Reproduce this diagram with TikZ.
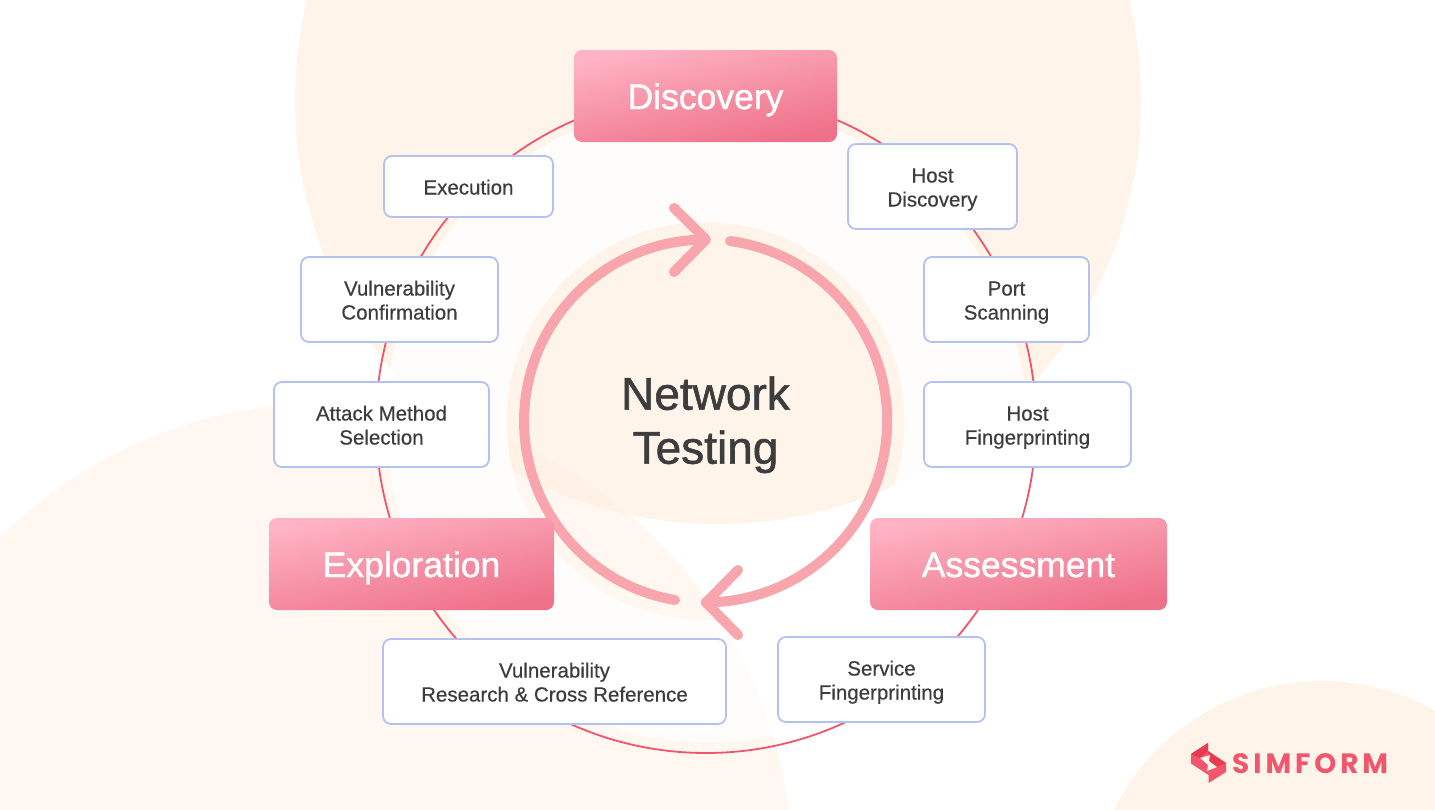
\documentclass[tikz,border=0pt]{standalone}
\usepackage{fontspec}
\setmainfont{Liberation Sans}
\newfontfamily\medfont[FakeBold=0.4]{Liberation Sans}
\newfontfamily\headfont[FakeBold=1.2]{Liberation Sans}
\newfontfamily\logofont[LetterSpace=14]{Poppins}
\definecolor{bgA}{HTML}{FFEBD5}
\definecolor{bgB}{HTML}{FFF0E2}
\definecolor{ringc}{HTML}{F0566B}
\definecolor{arrowc}{HTML}{F8A5AD}
\definecolor{boxline}{HTML}{B4C2F2}
\definecolor{inktext}{HTML}{3D3D3D}
\definecolor{gradtop}{HTML}{FFB3C3}
\definecolor{gradbot}{HTML}{EE7089}
\definecolor{logoc}{HTML}{F2566C}
\definecolor{logod}{HTML}{E83B50}
\definecolor{logobg}{HTML}{FFF5EA}
\tikzset{
  bgdisc/.style={fill opacity=.5},
  stepbox/.style={draw=boxline,line width=1.8pt,fill=white,rounded corners=8pt,align=center,
    text=inktext,inner sep=0pt,font=\medfont\fontsize{20.5}{24}\selectfont},
  phasebox/.style={rounded corners=8pt,top color=gradtop,bottom color=gradbot,shading angle=12,
    text=white,inner sep=0pt,font=\headfont\fontsize{35.5}{40}\selectfont},
  bigarc/.style={draw=arrowc,line width=10pt,line cap=round,line join=round},
}
\newcommand{\boxat}[7]{\node[#1,minimum width=#4pt-#2pt,minimum height=#5pt-#3pt] (#6) at ({(#2+#4)/2},{(#3+#5)/2}) {#7};}
\newcommand{\sline}[1]{\rule{0pt}{16pt}\smash{#1}}
\newcommand{\dline}[2]{\rule{0pt}{16pt}#1\\\smash{#2}}
\newcommand{\pline}[1]{\rule{0pt}{26pt}\smash{#1}}
\begin{document}
\begin{tikzpicture}[x=1pt,y=-1pt]
\useasboundingbox (0,0) rectangle (1435,809);
\clip (0,0) rectangle (1435,809);
\fill[white] (0,0) rectangle (1435,809);
% background discs
\fill[bgA,bgdisc] (718,101) circle[radius=423pt];
\fill[bgB,bgdisc] (327,868) circle[radius=465pt];
\fill[bgA,bgdisc] (1322,913) circle[radius=232pt];
% whitened band
\fill[white,fill opacity=.85,even odd rule] (706,422) circle[radius=320pt] (705.5,421) circle[radius=199pt];
% thin ring
\draw[ringc,line width=1.8pt] (706,423) circle[radius=330pt];
% big cycle arrows
\coordinate (arcAs) at (675,600);
\coordinate (arcAe) at (706,239.5);
\coordinate (arcBs) at (730,241);
\coordinate (arcBe) at (706,602.5);
\coordinate (headAu) at (674,208);
\coordinate (headAd) at (674,272);
\coordinate (headBu) at (738,570);
\coordinate (headBd) at (738,635);
\draw[bigarc] (arcAs) arc[start angle=260.3,end angle=90,radius=181.5pt];
\draw[bigarc] (headAu) -- (arcAe) -- (headAd);
\draw[bigarc] (arcBs) arc[start angle=82.3,end angle=-90,radius=181.5pt];
\draw[bigarc] (headBu) -- (arcBe) -- (headBd);
% centre label
\node[text=inktext,align=center,inner sep=0pt,font=\headfont\fontsize{46}{54}\selectfont] (centre) at (705.5,420) {\rule{0pt}{29pt}Network\\\smash{Testing}};
% phases
\boxat{phasebox}{574}{50}{837}{142}{discovery}{\pline{Discovery}}
\boxat{phasebox}{870}{518}{1167}{610}{assessment}{\pline{Assessment}}
\boxat{phasebox}{269}{518}{554}{610}{exploration}{\pline{Exploration}}
% steps
\boxat{stepbox}{384}{156}{553}{217}{execution}{\sline{Execution}}
\boxat{stepbox}{848}{144}{1017}{229}{hostdisc}{\dline{Host}{Discovery}}
\boxat{stepbox}{924}{257}{1089}{342}{portscan}{\dline{Port}{Scanning}}
\boxat{stepbox}{924}{382}{1131}{467}{hostfp}{\dline{Host}{Fingerprinting}}
\boxat{stepbox}{778}{637}{985}{722}{servicefp}{\dline{Service}{Fingerprinting}}
\boxat{stepbox}{383}{639}{726}{724}{vulnres}{\dline{Vulnerability}{Research \& Cross Reference}}
\boxat{stepbox}{274}{382}{489}{467}{attack}{\dline{Attack Method}{Selection}}
\boxat{stepbox}{301}{257}{498}{342}{vulnconf}{\dline{Vulnerability}{Confirmation}}
% logo
\fill[logoc] (1208,743) -- (1191,754) -- (1191,763.5) -- (1208.5,775) -- (1208.5,783) -- (1226,772) -- (1226,763) -- (1208,751) -- cycle;
\fill[logod] (1191,754) -- (1208,743) -- (1208,751) -- (1200,758) -- cycle;
\fill[logod] (1226,763) -- (1217,767) -- (1209,761) -- (1208,751) -- cycle;
\fill[logobg] (1200,758) -- (1210,755) -- (1209,761) -- (1217,767) -- (1207,771) -- (1208,765) -- cycle;
\node[text=logoc,inner sep=0pt,anchor=base west,font=\logofont\bfseries\fontsize{28}{28}\selectfont] (logo) at (1232,773) {SIMFORM};
\end{tikzpicture}
\end{document}
